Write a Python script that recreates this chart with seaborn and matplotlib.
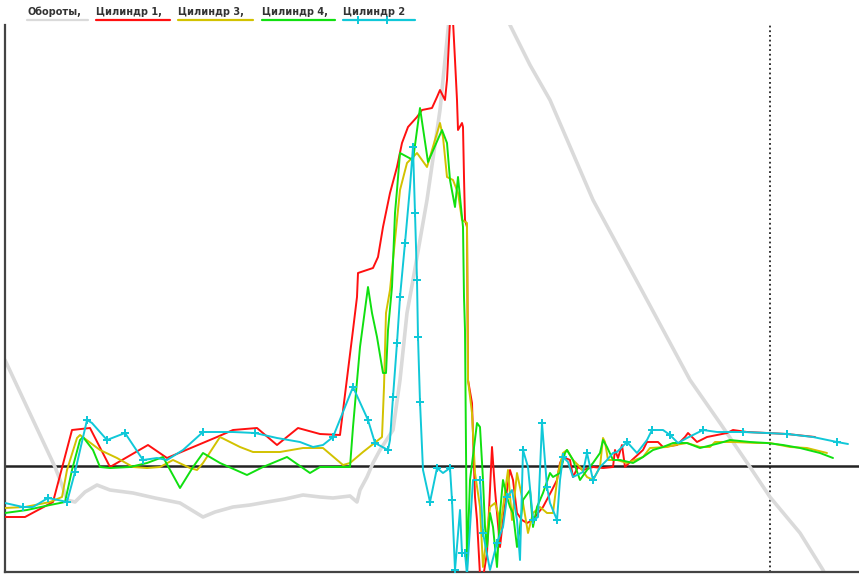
import matplotlib
matplotlib.use('Agg')
import matplotlib.pyplot as plt
from matplotlib.lines import Line2D
import seaborn as sns
import pandas as pd

# engine trace: RPM (grey) and per-cylinder curves, x = sample position, y = signal level
rpm_x = [5, 33, 55, 62, 67, 75, 85, 97, 110, 133, 155, 180, 203, 215, 233, 250, 267, 285, 303,
         320, 333, 350, 357, 360, 367, 373, 380, 393, 400, 407, 413, 427, 440, 447, 455, 462, 490,
         506, 510, 530, 550, 593, 647, 690, 720, 750, 770, 800, 823, 830]
rpm_y = [106, 46, -1, -19, -34, -36, -26, -19, -24, -27, -32, -37, -51, -46, -41, -39, -36, -33, -29,
         -31, -32, -30, -36, -24, -11, 3, 16, 36, 86, 153, 186, 266, 356, 426, 506, 546, 526,
         451, 441, 401, 366, 266, 166, 86, 43, -1, -31, -67, -104, -119]

cyl1_x = [5, 25, 53, 72, 90, 110, 148, 167, 217, 233, 257, 277, 298, 320, 340, 353, 357, 358, 373, 378,
          383, 390, 397, 402, 408, 417, 422, 432, 437, 440, 445, 447, 450, 453, 455, 457, 458, 462, 463, 464,
          465, 467, 468, 472, 475, 477, 480, 483, 487, 492, 495, 500, 503, 507, 510, 513, 517, 522, 527, 533,
          538, 543, 552, 557, 560, 563, 570, 573, 578, 583, 593, 603, 613, 615, 618, 622, 625, 632, 643, 647,
          658, 663, 677, 685, 688, 697, 707, 727, 733, 747, 767, 787, 815]
cyl1_y = [-51, -51, -36, 36, 38, -1, 21, 8, 29, 36, 38, 21, 38, 32, 31, 136, 169, 193, 198, 209,
          239, 273, 299, 323, 339, 349, 356, 358, 369, 376, 366, 386, 445, 445, 406, 366, 336, 343, 339, 289,
          246, 239, 86, 63, -31, -54, -109, -112, -87, 19, -24, -81, -54, -24, -4, -14, -47, -54, -57, -54,
          -47, -41, -24, -14, 3, 9, 6, -11, -1, -4, -1, -2, -1, 16, 8, 21, -1, 6, 16, 24,
          24, 19, 21, 29, 33, 24, 29, 33, 36, 34, 33, 32, 29]

cyl3_x = [5, 25, 50, 62, 67, 77, 80, 100, 117, 133, 147, 160, 173, 190, 197, 203, 220, 240, 253, 280,
          303, 323, 343, 350, 363, 377, 382, 384, 386, 390, 400, 407, 417, 427, 440, 443, 447,
          453, 458, 462, 467, 468, 472, 475, 480, 483, 490, 495, 498, 500, 503, 508, 512, 517,
          522, 528, 533, 540, 547, 553, 558, 563, 567, 573, 580, 587, 593, 600, 603, 605, 608, 617, 627, 643,
          650, 667, 675, 687, 700, 710, 715, 733, 757, 770, 790, 807, 827]
cyl3_y = [-42, -41, -36, -31, -4, 28, 31, 16, 8, -1, -2, -1, 6, -2, -4, 3, 29, 19, 14, 14,
          18, 18, 1, 3, 14, 25, 29, 79, 153, 176, 276, 303, 313, 299, 343, 329, 289,
          286, 273, 246, 243, 86, 53, -7, -41, -101, -41, -37, -47, -64, -41, -4, -54, -7,
          -31, -67, -47, -41, -47, -47, -7, 13, 16, 6, -1, -11, -14, -1, 28, 24, 6, 6, 3, 9,
          18, 19, 21, 23, 19, 19, 24, 24, 23, 23, 19, 18, 13]

cyl4_x = [5, 27, 50, 65, 72, 80, 83, 93, 100, 110, 130, 147, 163, 180, 193, 203, 220, 247, 263, 287,
          310, 320, 350, 353, 360, 368, 372, 377, 383, 386, 388, 392, 395, 397, 400, 413, 420, 428,
          442, 447, 450, 455, 458, 462, 463, 464, 465, 467, 470, 477, 480, 483, 485,
          487, 490, 493, 497, 500, 503, 507, 510, 513, 517, 520, 523, 530, 533, 537, 543, 550, 553, 560, 565,
          567, 573, 580, 587, 593, 600, 603, 607, 613, 620, 633, 643, 653, 663, 673, 687, 700, 720, 730, 750,
          767, 783, 800, 820, 833]
cyl4_y = [-47, -44, -39, -36, -4, 26, 29, 16, -1, -2, -1, 3, 9, -22, -1, 13, 3, -9, -1, 9,
          -7, -1, -1, 39, 119, 179, 153, 129, 93, 93, 136, 179, 253, 276, 313, 306, 358, 304,
          336, 323, 286, 259, 289, 249, 239, 169, 136, -101, -14, 43, 39, -14, -61,
          -81, -47, -61, -101, -47, -14, -31, -41, -47, -81, -61, -34, -24, -61, -41, -27, -7, -11, -7, 13,
          16, 6, -14, -4, 3, 13, 26, 19, 6, 6, 3, 9, 16, 19, 23, 23, 18, 23, 26, 24,
          23, 21, 18, 13, 8]

cyl2_x = [5, 23, 33, 48, 58, 67, 75, 87, 92, 107, 125, 143, 157, 167, 183, 203, 217, 233, 255, 277,
          300, 313, 323, 333, 337, 353, 368, 375, 388, 390, 393, 397, 400, 405, 410, 413, 415, 417, 418, 420,
          423, 430, 437, 443, 450, 452, 455, 460, 462, 465, 467, 473, 480, 483, 490, 497, 503, 507, 512, 517,
          520, 523, 528, 533, 538, 542, 547, 550, 557, 560, 563, 568, 573, 583, 587, 593, 600, 607, 613, 617,
          627, 637, 647, 652, 663, 670, 678, 687, 697, 703, 717, 743, 767, 787, 813, 837, 848]
cyl2_y = [-37, -41, -41, -32, -34, -36, -6, 46, 43, 26, 33, 6, 8, 6, 16, 34, 34, 34, 33, 28,
          24, 19, 21, 29, 39, 79, 46, 23, 16, 26, 69, 123, 169, 223, 279, 319, 253, 186, 129, 64,
          -4, -36, -2, -7, -2, -34, -104, -44, -87, -87, -109, -14, -14, -67, -104, -77, -61, -31, -24, -54,
          -94, 16, -1, -54, -51, 43, -21, -37, -54, -14, 9, 4, -11, -6, 13, -14, -1, 6, 13, 14,
          24, 13, 26, 36, 36, 31, 23, 28, 33, 36, 34, 34, 33, 32, 29, 24, 22]
cyl2_marks = [1, 3, 5, 6, 7, 9, 10, 11, 15, 18, 23, 25, 26, 27, 28, 30, 31, 32, 33, 35, 36, 37, 38, 39,
              41, 42, 44, 45, 46, 48, 49, 52, 53, 55, 57, 61, 63, 65, 66, 68, 70, 74, 75, 80, 83, 85, 89,
              91, 93, 95]

zero_level = 0
marker_x = 770

labels = ["Обороты,", "Цилиндр 1,", "Цилиндр 3,", "Цилиндр 4,", "Цилиндр 2"]
colors = ["#dadada", "#ff1010", "#d2c200", "#10e010", "#10c8d8"]

sns.set_style("white")
plt.rcParams['font.family'] = ['DejaVu Sans']

W, H = 859, 574
fig = plt.figure(figsize=(W / 100, H / 100), dpi=100)
ax = fig.add_axes([5 / W, 2 / H, 854 / W, 547 / H])

ax.axhline(zero_level, color="#222222", lw=1.8, zorder=1)
ax.axvline(marker_x, color="#222222", lw=1.3, ls=(0, (1, 1.6)), zorder=1)

series = [(rpm_x, rpm_y), (cyl1_x, cyl1_y), (cyl3_x, cyl3_y), (cyl4_x, cyl4_y), (cyl2_x, cyl2_y)]
for i, (xs, ys) in enumerate(series):
    df = pd.DataFrame({"x": xs, "y": ys})
    kw = dict(lw=1.4)
    if i == 0:
        kw = dict(lw=2.6)
    if i == 4:
        kw = dict(lw=1.4, marker="P", markersize=6, markevery=cyl2_marks, markeredgewidth=0)
    sns.lineplot(data=df, x="x", y="y", sort=False, estimator=None, color=colors[i],
                 ax=ax, zorder=2 + i, **kw)

ax.set_xlim(5, 859)
ax.set_ylim(-106, 441)
ax.set_xticks([])
ax.set_yticks([])
ax.set_xlabel("")
ax.set_ylabel("")
for s in ["top", "right"]:
    ax.spines[s].set_visible(False)
for s in ["left", "bottom"]:
    ax.spines[s].set_color("#444444")
    ax.spines[s].set_linewidth(1.6)

# legend strip: text with coloured underline
starts = [27, 96, 178, 262, 343]
ends = [88, 170, 253, 335, 415]
for lab, c, x0, x1 in zip(labels, colors, starts, ends):
    fig.text(x0 / W, 1 - 12 / H, lab, fontsize=7, color="#333333", va="center", ha="left",
             fontweight="bold")
    ln = Line2D([x0 / W, x1 / W], [1 - 20 / H, 1 - 20 / H], color=c, lw=1.6,
                transform=fig.transFigure)
    fig.add_artist(ln)
for mx in [358, 387]:
    fig.add_artist(Line2D([mx / W], [1 - 20 / H], marker="P", markersize=6, color=colors[4],
                          markeredgewidth=0, transform=fig.transFigure))

fig.savefig("out.png", dpi=100)
